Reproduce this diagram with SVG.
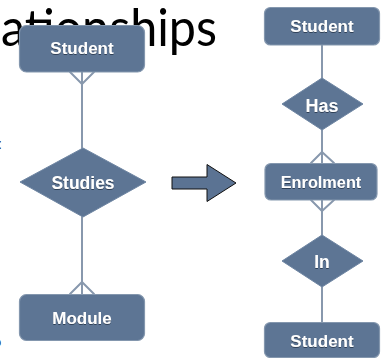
<svg xmlns="http://www.w3.org/2000/svg" width="388" height="358" viewBox="0 0 388 358">
  <defs>
    <filter id="txtShadow" x="-10%" y="-30%" width="120%" height="160%">
      <feDropShadow dx="0" dy="1" stdDeviation="0.6" flood-color="#1e2a3a" flood-opacity="0.7"/>
    </filter>
  </defs>
  <style>
    .entity { fill: #5d7594; stroke: #8497ae; stroke-width: 1.2; }
    .rel { fill: #5d7594; stroke: #6f86a3; stroke-width: 1; }
    .label { font-family: "Liberation Sans", Arial, sans-serif; font-weight: bold; fill: #ffffff; text-anchor: middle; filter: url(#txtShadow); }
    .conn { stroke: #8898ad; stroke-width: 2; fill: none; stroke-linecap: round; stroke-linejoin: round; }
    .frag { font-family: "Liberation Sans", Arial, sans-serif; fill: #222222; }
  </style>

  <rect width="388" height="358" fill="#ffffff"/>

  <!-- slide title, partly hidden behind the diagram -->
  <text x="1" y="46" font-family="Lato, 'Open Sans', sans-serif" font-size="53" fill="#000000" textLength="216" lengthAdjust="spacingAndGlyphs">ationships</text>

  <!-- clipped body text at the left edge -->
  <text class="frag" x="-6" y="149" font-size="14">t:</text>
  <text class="frag" x="-5" y="321" font-size="12">:</text>
  <text class="frag" x="-8" y="347" font-size="15" font-weight="bold">o</text>

  <!-- connectors -->
  <g id="connectors">
    <!-- Student — Studies — Module -->
    <line class="conn" x1="82" y1="72" x2="82" y2="148"/>
    <polyline class="conn" points="70,72 82,84 94,72"/>
    <line class="conn" x1="82" y1="217" x2="82" y2="294"/>
    <polyline class="conn" points="70,294 82,282 94,294"/>

    <!-- Student — Has — Enrolment -->
    <line class="conn" x1="322" y1="45" x2="322" y2="78"/>
    <line class="conn" x1="322" y1="130" x2="322" y2="163"/>
    <polyline class="conn" points="311,163 322,152 334,163"/>

    <!-- Enrolment — In — Student -->
    <line class="conn" x1="322" y1="200" x2="322" y2="235"/>
    <polyline class="conn" points="311,200 322,211 334,200"/>
    <line class="conn" x1="322" y1="287" x2="322" y2="322"/>
  </g>

  <!-- transformation arrow -->
  <g id="arrow">
    <polygon points="172,177 207,177 207,164.5 236,183 207,201.5 207,189 172,189" fill="#5b7393" stroke="#111111" stroke-width="1"/>
  </g>

  <!-- left: many-to-many -->
  <g id="student-left">
    <rect class="entity" x="19.5" y="25.5" width="125" height="46.5" rx="7"/>
    <text class="label" x="82" y="53.5" font-size="17">Student</text>
  </g>
  <g id="studies">
    <polygon class="rel" points="20,182 83,148 146,182 83,217"/>
    <text class="label" x="83" y="188.5" font-size="17.5">Studies</text>
  </g>
  <g id="module">
    <rect class="entity" x="19.5" y="294.5" width="125" height="46" rx="7"/>
    <text class="label" x="82" y="323.5" font-size="17">Module</text>
  </g>

  <!-- right: resolved with a link entity -->
  <g id="student-top">
    <rect class="entity" x="264.5" y="7.5" width="115" height="37.5" rx="6"/>
    <text class="label" x="322" y="32" font-size="17">Student</text>
  </g>
  <g id="has">
    <polygon class="rel" points="282,104 322,78 363,104 322,130"/>
    <text class="label" x="322" y="111.5" font-size="18">Has</text>
  </g>
  <g id="enrolment">
    <rect class="entity" x="265" y="163.5" width="112" height="36.5" rx="6"/>
    <text class="label" x="321" y="187.5" font-size="16.3">Enrolment</text>
  </g>
  <g id="in">
    <polygon class="rel" points="282,261 322,235 363,261 322,287"/>
    <text class="label" x="322" y="268" font-size="17.5">In</text>
  </g>
  <g id="student-bottom">
    <rect class="entity" x="264.5" y="322.5" width="115" height="35" rx="6"/>
    <text class="label" x="322" y="346.5" font-size="17">Student</text>
  </g>
</svg>
